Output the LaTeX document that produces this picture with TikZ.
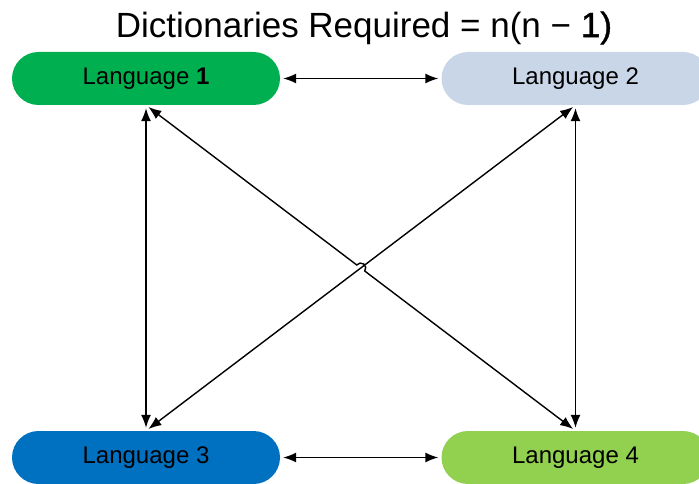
\documentclass[tikz,border=0pt]{standalone}
\usepackage{fontspec}
\setmainfont{Liberation Sans}
\newfontfamily\heavier[FakeBold=1.2]{Liberation Sans}
\usetikzlibrary{arrows.meta,calc}
\definecolor{langA}{HTML}{00B050}
\definecolor{langB}{HTML}{C9D6E7}
\definecolor{langC}{HTML}{0070C0}
\definecolor{langD}{HTML}{92D050}
\tikzset{
  langbox/.style={rectangle, rounded corners=26.5pt, minimum width=268pt,
    minimum height=53pt, inner sep=0pt, font=\fontsize{24}{28}\selectfont},
  link/.style={line width=1.4pt, {Latex[length=13pt,width=10pt]}-{Latex[length=13pt,width=10pt]},
    shorten <=3pt, shorten >=3pt}
}
\begin{document}
\begin{tikzpicture}[x=1pt,y=1pt]
\useasboundingbox (0,0) rectangle (699,483);
\clip (0,0) rectangle (699,483);
% title
\node (title) at (364,455) {\fontsize{35}{40}\selectfont Dictionaries Required = n(n − {\heavier 1)}};
% the four languages
\node[langbox, fill=langA] (l1) at (146,404.5) {Language \textbf{1}};
\node[langbox, fill=langB] (l2) at (575.5,404.5) {Language 2};
\node[langbox, fill=langC] (l3) at (146,25.5) {Language 3};
\node[langbox, fill=langD] (l4) at (575.5,25.5) {Language 4};
% pairwise links
\draw[link] (l1.east) -- (l2.west);
\draw[link] (l3.east) -- (l4.west);
\draw[link] (l1.south) -- (l3.north);
\draw[link] (l2.south) -- (l4.north);
\draw[link] (l2.south) -- (l3.north);
% diagonal 1-4 hops over the 2-3 diagonal where they cross
\coordinate (cross) at ($(l1.south)!0.5!(l4.north)$);
\draw[link] let \p1=($(l4.north)-(l1.south)$), \n1={atan2(\y1,\x1)} in
  (l1.south) -- ($(cross)!5pt!(l1.south)$)
  arc[start angle=\n1+180, end angle=\n1, radius=5pt]
  -- (l4.north);
\end{tikzpicture}
\end{document}
